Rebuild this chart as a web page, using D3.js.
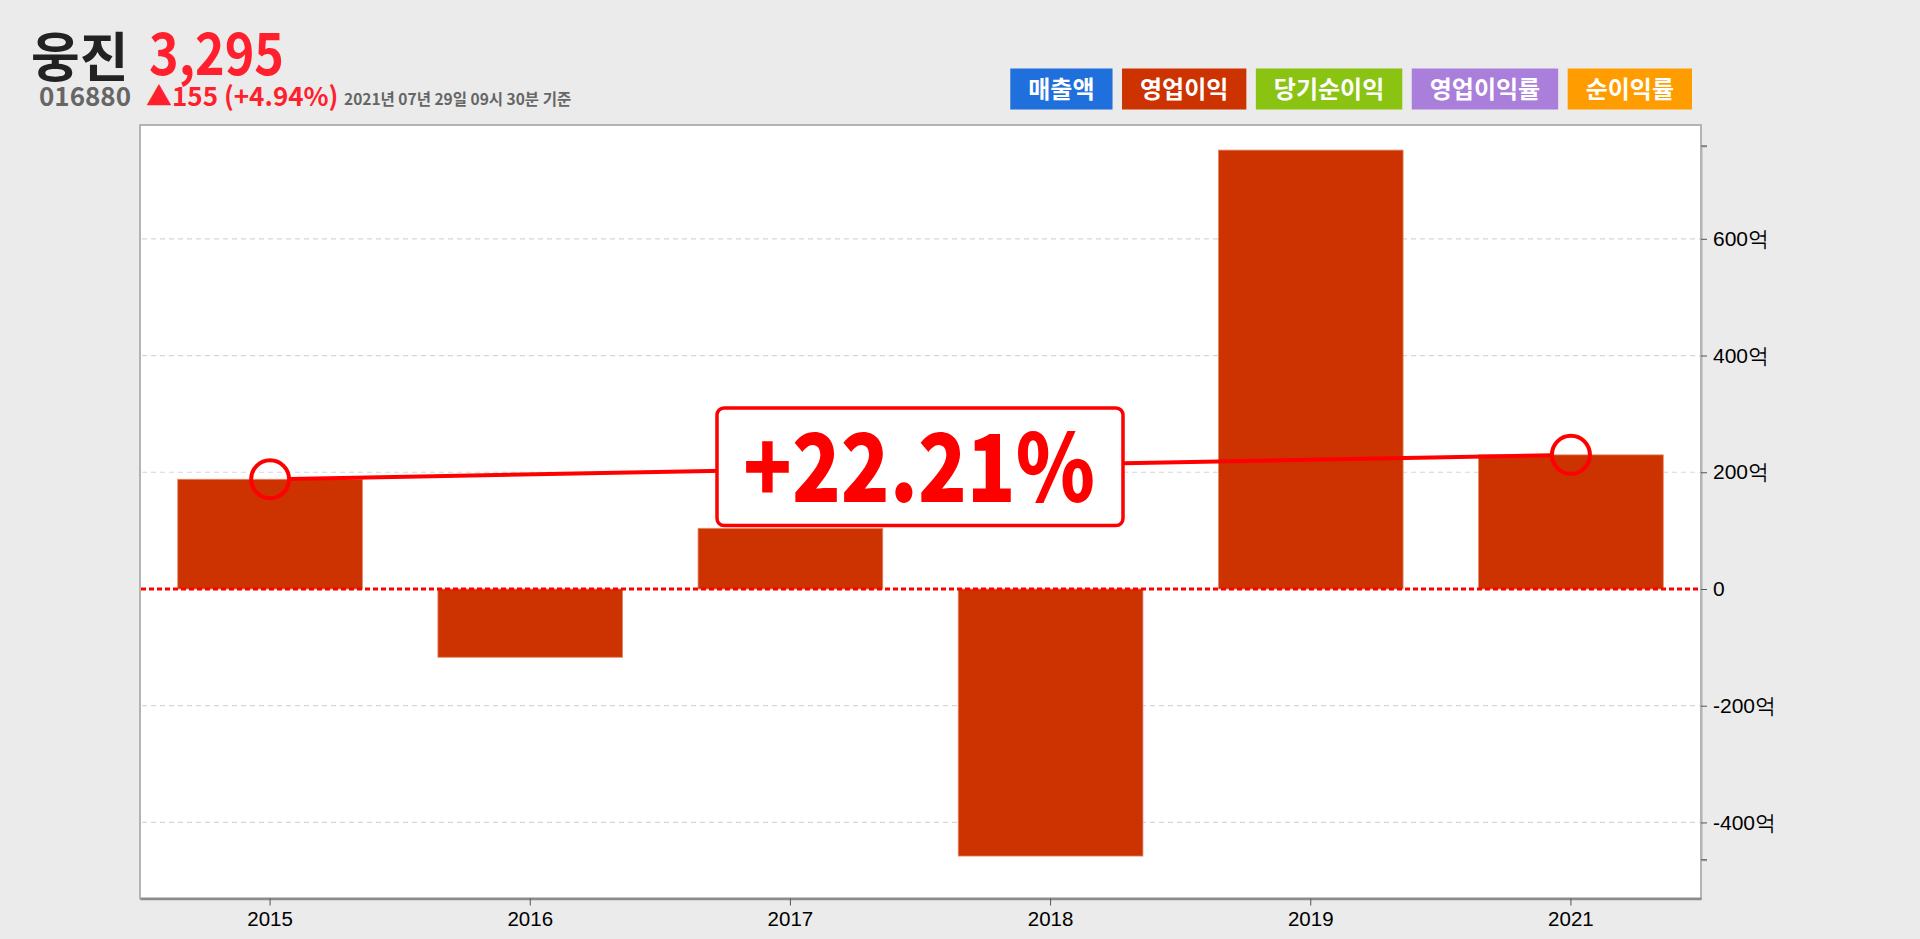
<!DOCTYPE html>
<html>
<head>
<meta charset="utf-8">
<script src="https://cdn.jsdelivr.net/npm/d3@7"></script>
<style>
  html, body { margin: 0; padding: 0; background: #ebebeb; }
  svg { display: block; }
</style>
</head>
<body>
<svg id="chart" width="1920" height="939"></svg>
<script>
// ---- data ----
const categories = ["2015", "2016", "2017", "2018", "2019", "2021"];
const operatingProfit = [188, -117, 104, -457.6, 752, 229.8];
const yTickValues = [-400, -200, 0, 200, 400, 600];
const yDomain = [-464, 759];
const legendLabels = ["매출액", "영업이익", "당기순이익", "영업이익률", "순이익률"];
const stockName = "웅진";
const stockCode = "016880";
const price = "3,295";
const change = "▲155 (+4.94%)";
const asOf = "2021년 07년 29일 09시 30분 기준";
const growthLabel = "+22.21%";

// ---- styles ----
const legendColors = ["#1f6fdd", "#cc3300", "#8ac312", "#a97fdb", "#ff9c00"];
const barColor = "#cc3300";
const red = "#ff0000";
const KFONT = "'Noto Sans CJK KR', 'Noto Sans', sans-serif";
const AFONT = "'Liberation Sans', Arial, sans-serif";

const svg = d3.select("#chart");
const plot = { left: 140, right: 1701, top: 125, bottom: 898.5 };

const x = d3.scaleBand().domain(categories)
  .range([plot.left, plot.right]).paddingInner(0.29).paddingOuter(0.145);
const y = d3.scaleLinear().domain(yDomain).range([859.8, 146]);

// plot background
svg.append("rect")
  .attr("x", plot.left).attr("y", plot.top)
  .attr("width", plot.right - plot.left).attr("height", plot.bottom - plot.top)
  .attr("fill", "#fff").attr("stroke", "#b4b4b4").attr("stroke-width", 2);

// grid lines
svg.append("g").selectAll("line")
  .data(yTickValues.filter(d => d !== 0))
  .join("line")
  .attr("x1", plot.left + 2).attr("x2", plot.right - 1)
  .attr("y1", d => y(d)).attr("y2", d => y(d))
  .attr("stroke", "#d6d6d6").attr("stroke-width", 1.2)
  .attr("stroke-dasharray", "5,4");

// bars
svg.append("g").selectAll("rect")
  .data(categories.map((c, i) => ({ c, v: operatingProfit[i] })))
  .join("rect")
  .attr("x", d => x(d.c))
  .attr("width", x.bandwidth())
  .attr("y", d => y(Math.max(0, d.v)))
  .attr("height", d => Math.abs(y(d.v) - y(0)))
  .attr("fill", barColor)
  .attr("stroke", "#e58a6b").attr("stroke-width", 0.8);

// zero line
svg.append("line")
  .attr("x1", plot.left + 1).attr("x2", plot.right - 1)
  .attr("y1", y(0)).attr("y2", y(0))
  .attr("stroke", red).attr("stroke-width", 3)
  .attr("stroke-dasharray", "5,3");

// right axis
const yAxis = svg.append("g")
  .attr("transform", `translate(${plot.right},0)`)
  .call(d3.axisRight(y).tickValues(yTickValues).tickSize(6).tickSizeOuter(6).tickPadding(6)
    .tickFormat(d => d === 0 ? "0" : d + "억"));
yAxis.select(".domain").attr("stroke", "#b4b4b4").attr("stroke-width", 2);
yAxis.selectAll(".tick line").attr("stroke", "#555");
yAxis.selectAll("text").attr("font-family", AFONT).attr("font-size", 21).attr("fill", "#000");
yAxis.append("line").attr("x1", 0).attr("x2", 6).attr("y1", y(yDomain[1])).attr("y2", y(yDomain[1])).attr("stroke", "#555");
yAxis.append("line").attr("x1", 0).attr("x2", 6).attr("y1", y(yDomain[0])).attr("y2", y(yDomain[0])).attr("stroke", "#555");

// bottom axis
const xAxis = svg.append("g")
  .attr("transform", `translate(0,${plot.bottom})`)
  .call(d3.axisBottom(x).tickSize(7).tickSizeOuter(0).tickPadding(6));
xAxis.select(".domain").attr("stroke", "#8c8c8c").attr("stroke-width", 2.5);
xAxis.selectAll(".tick line").attr("stroke", "#555");
xAxis.selectAll("text").attr("font-family", AFONT).attr("font-size", 20.5).attr("fill", "#000");

// growth line between first and last bars
const i0 = 0, i1 = categories.length - 1;
const p0 = [x(categories[i0]) + x.bandwidth() / 2, y(operatingProfit[i0])];
const p1 = [x(categories[i1]) + x.bandwidth() / 2, y(operatingProfit[i1])];
const r = 19;
const ang = Math.atan2(p1[1] - p0[1], p1[0] - p0[0]);
svg.append("line")
  .attr("x1", p0[0] + r * Math.cos(ang)).attr("y1", p0[1] + r * Math.sin(ang))
  .attr("x2", p1[0] - r * Math.cos(ang)).attr("y2", p1[1] - r * Math.sin(ang))
  .attr("stroke", red).attr("stroke-width", 4);
svg.append("g").selectAll("circle").data([p0, p1]).join("circle")
  .attr("cx", d => d[0]).attr("cy", d => d[1]).attr("r", r)
  .attr("fill", "none").attr("stroke", red).attr("stroke-width", 4);

// growth label box
const cx = (p0[0] + p1[0]) / 2 - 0.5;
svg.append("rect")
  .attr("x", cx - 203).attr("y", 408).attr("width", 406).attr("height", 117.5)
  .attr("rx", 7).attr("fill", "#fff").attr("stroke", red).attr("stroke-width", 3.5);
svg.append("text")
  .attr("x", cx - 1).attr("y", 501.5)
  .attr("text-anchor", "middle")
  .attr("font-family", KFONT).attr("font-weight", 900).attr("font-size", 94)
  .attr("fill", red)
  .attr("textLength", 352).attr("lengthAdjust", "spacingAndGlyphs")
  .text(growthLabel);

// header
svg.append("text").attr("x", 31).attr("y", 77)
  .attr("font-family", KFONT).attr("font-weight", 700).attr("font-size", 53)
  .attr("fill", "#222").text(stockName);
svg.append("text").attr("x", 149).attr("y", 75)
  .attr("font-family", KFONT).attr("font-weight", 700).attr("font-size", 58)
  .attr("fill", "#ff1f2d")
  .attr("textLength", 135).attr("lengthAdjust", "spacingAndGlyphs")
  .text(price);
svg.append("text").attr("x", 39).attr("y", 106)
  .attr("font-family", KFONT).attr("font-weight", 700).attr("font-size", 26)
  .attr("fill", "#666").text(stockCode);
svg.append("text").attr("x", 146).attr("y", 106)
  .attr("font-family", KFONT).attr("font-weight", 700).attr("font-size", 26)
  .attr("fill", "#ff1f2d").text(change);
svg.append("text").attr("x", 344).attr("y", 105)
  .attr("font-family", KFONT).attr("font-weight", 700).attr("font-size", 15.5)
  .attr("fill", "#666").text(asOf);

// legend (right aligned)
const legend = svg.append("g");
const items = legend.selectAll("g").data(legendLabels).join("g");
items.append("rect").attr("fill", (d, i) => legendColors[i]);
items.append("text")
  .attr("font-family", KFONT).attr("font-weight", 700).attr("font-size", 24)
  .attr("fill", "#fff").attr("text-anchor", "middle")
  .text(d => d);
const pad = 18, gap = 9.5, boxH = 41, boxY = 68.5;
const widths = [];
items.select("text").each(function () { widths.push(this.getComputedTextLength() + 2 * pad); });
let xr = 1692;
const xs = [];
for (let i = widths.length - 1; i >= 0; i--) { xr -= widths[i]; xs[i] = xr; xr -= gap; }
items.select("rect")
  .attr("x", (d, i) => xs[i]).attr("y", boxY)
  .attr("width", (d, i) => widths[i]).attr("height", boxH);
items.select("text")
  .attr("x", (d, i) => xs[i] + widths[i] / 2).attr("y", boxY + 29);
</script>
</body>
</html>
